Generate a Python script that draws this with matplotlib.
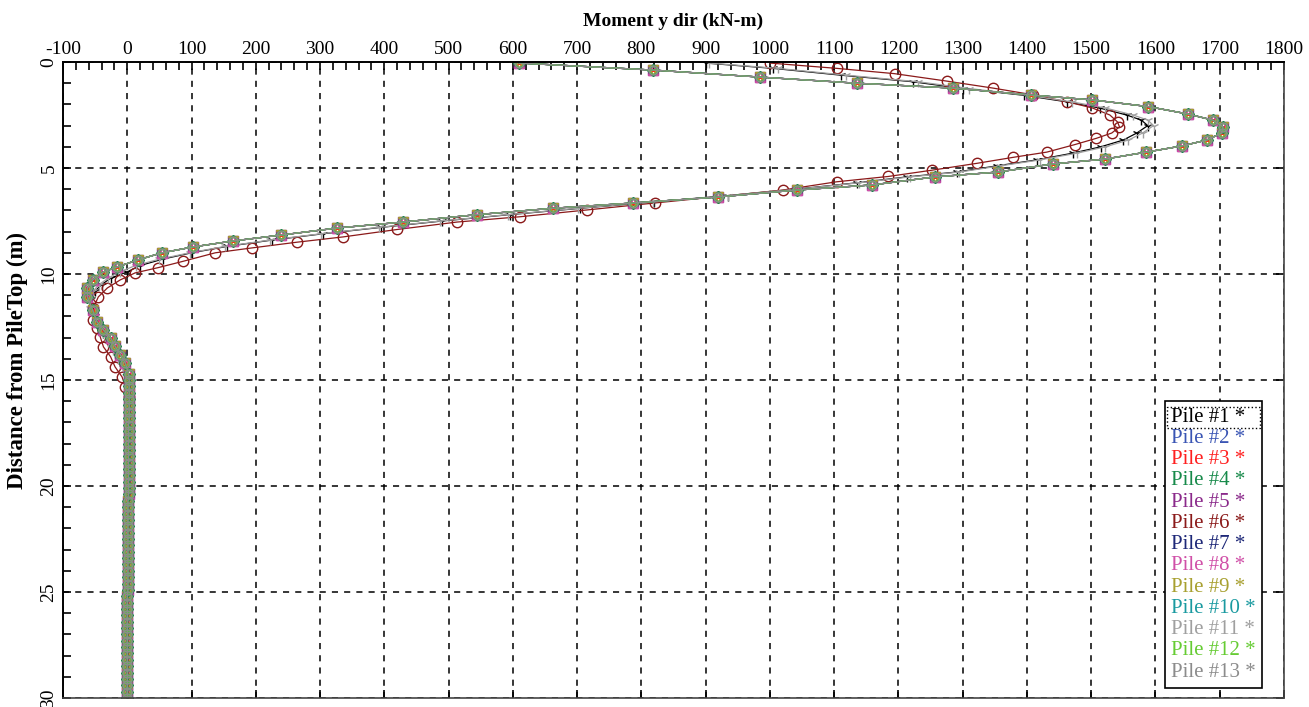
import numpy as np
import matplotlib
matplotlib.use("Agg")
import matplotlib.pyplot as plt
from matplotlib.lines import Line2D
from matplotlib.patches import Rectangle
from matplotlib.ticker import MultipleLocator

plt.rcParams["font.family"] = ["Liberation Serif", "DejaVu Serif"]
plt.rcParams["axes.unicode_minus"] = False

# piles 2-5, 7-10, 12, 13 give practically the same curve
depth_a = [0.05, 0.38, 0.71, 1.0, 1.23, 1.56, 1.79, 2.1, 2.45, 2.74,
           3.06, 3.35, 3.68, 3.96, 4.25, 4.58, 4.81, 5.19, 5.42, 5.8,
           6.04, 6.37, 6.65, 6.9, 7.2, 7.55, 7.83, 8.16, 8.44, 8.72,
           9.0, 9.34, 9.67, 9.9, 10.28, 10.66, 11.08, 11.7, 12.26, 12.64,
           13.0, 13.4, 13.8, 14.2, 14.7]
moment_a = [610, 818, 984, 1135, 1285, 1407, 1502, 1588, 1650, 1689,
            1705, 1703, 1680, 1641, 1586, 1521, 1440, 1355, 1257, 1159,
            1042, 919, 787, 662, 544, 429, 327, 240, 165, 103,
            54, 16, -16, -37, -54, -62, -62, -54, -47, -37,
            -26, -19, -11, -3, 2]

# pile 1 (black) and pile 11 (grey)
depth_p1 = [0.05, 0.3, 0.62, 0.93, 1.25, 1.57, 1.88, 2.17, 2.5, 2.74,
            3.0, 3.35, 3.68, 4.0, 4.3, 4.62, 4.9, 5.19, 5.42, 5.7,
            6.0, 6.3, 6.6, 6.9, 7.2, 7.5, 7.8, 8.1, 8.4, 8.7,
            9.0, 9.3, 9.6, 9.9, 10.2, 10.5, 10.8, 11.2, 11.6, 12.0,
            12.4, 12.8, 13.2, 13.6, 14.0, 14.4, 14.8]
moment_p1 = [900, 1005, 1110, 1222, 1300, 1395, 1462, 1513, 1555, 1578,
             1588, 1571, 1550, 1515, 1471, 1415, 1353, 1291, 1213, 1135,
             1040, 935, 820, 705, 595, 490, 395, 305, 225, 155,
             100, 55, 20, 0, -26, -40, -50, -56, -55, -50,
             -44, -37, -29, -21, -13, -6, -1]
moment_p11 = [905, 1012, 1118, 1230, 1310, 1400, 1470, 1522, 1565, 1588,
              1597, 1580, 1558, 1522, 1478, 1420, 1358, 1295, 1218, 1138,
              1042, 935, 818, 702, 592, 487, 392, 302, 222, 152,
              97, 50, 13, -12, -30, -44, -53, -58, -58, -53,
              -46, -38, -30, -22, -14, -7, -2]

# pile 6 (dark red, shorter pile)
depth_p6 = [0.05, 0.3, 0.55, 0.9, 1.23, 1.55, 1.88, 2.17, 2.5, 2.83,
            3.06, 3.35, 3.6, 3.9, 4.25, 4.5, 4.78, 5.1, 5.4, 5.65,
            6.04, 6.35, 6.65, 6.98, 7.3, 7.55, 7.9, 8.25, 8.5, 8.77,
            9.0, 9.4, 9.7, 9.95, 10.28, 10.66, 11.08, 11.6, 12.17, 12.55,
            12.97, 13.44, 13.9, 14.38, 14.86, 15.33, 15.8, 16.3, 16.8, 17.3,
            17.8, 18.3, 18.8, 19.3, 19.8, 20.3, 20.8]
moment_p6 = [1000, 1104, 1194, 1275, 1347, 1410, 1463, 1502, 1529, 1541,
             1544, 1532, 1508, 1474, 1431, 1378, 1322, 1253, 1184, 1104,
             1020, 920, 821, 715, 611, 513, 420, 336, 264, 194,
             137, 87, 48, 12, -11, -31, -45, -53, -53, -47,
             -42, -37, -26, -19, -8, -3, 2, 5, 7, 7,
             7, 7, 7, 7, 7, 7, 7]

# lower part of the long piles (15 m - 30 m)
deep_depth = [15.0, 15.3, 15.6, 15.9, 16.2, 16.5, 16.8, 17.1, 17.4, 17.7,
              18.0, 18.3, 18.6, 18.9, 19.2, 19.5, 19.8, 20.1, 20.4, 20.7,
              21.0, 21.3, 21.6, 21.9, 22.2, 22.5, 22.8, 23.1, 23.4, 23.7,
              24.0, 24.3, 24.6, 24.9, 25.2, 25.5, 25.8, 26.1, 26.4, 26.7,
              27.0, 27.3, 27.6, 27.9, 28.2, 28.5, 28.8, 29.1, 29.4, 29.7, 30.0]
deep_moment = [3, 3, 3, 3, 3, 3, 3, 2, 2, 2,
               2, 2, 2, 2, 2, 2, 2, 2, 2, 1,
               1, 1, 1, 1, 1, 1, 1, 1, 1, 1,
               1, 1, 1, 1, 0, 0, 0, 0, 0, 0,
               0, 0, 0, 0, 0, 0, 0, 0, 0, 0, 0]

pile_labels = ["Pile #1", "Pile #2", "Pile #3", "Pile #4", "Pile #5", "Pile #6", "Pile #7",
               "Pile #8", "Pile #9", "Pile #10", "Pile #11", "Pile #12", "Pile #13"]
pile_colors = ["#000000", "#3A55B4", "#FF2020", "#178A4A", "#8B2A8B", "#8B1A1A", "#1E2878",
               "#D050A8", "#A8A030", "#1A9AA0", "#A0A0A0", "#66CC33", "#8C8C8C"]
pile_markers = ["1", "o", "x", "D", "s", "o", "p", "^", "v", "h", "1", "H", "o"]
# drawing order, so the grey line with greenish markers ends up on top as in the original
draw_order = [1, 6, 11, 2, 3, 5, 7, 8, 9, 10, 4, 12, 13]

fig = plt.figure(figsize=(13.09, 7.07), dpi=100)
ax = fig.add_axes([63 / 1309, 9 / 707, 1221 / 1309, 636 / 707])

for num in draw_order:
    i = num - 1
    if num == 1:
        x = moment_p1 + deep_moment
        y = depth_p1 + deep_depth
        mevery = None
    elif num == 11:
        x = moment_p11 + deep_moment
        y = depth_p1 + deep_depth
        mevery = None
    elif num == 6:
        x = moment_p6
        y = depth_p6
        mevery = list(range(47))
    else:
        x = moment_a + deep_moment
        y = depth_a + deep_depth
        mevery = None
    ms = 7.5 if num == 6 else 6.5
    ax.plot(x, y, color=pile_colors[i], lw=0.9, marker=pile_markers[i], ms=ms,
            mfc="none", mew=1.0, markevery=mevery)

ax.set_xlim(-100, 1800)
ax.set_ylim(30, 0)
ax.xaxis.set_major_locator(MultipleLocator(100))
ax.xaxis.set_minor_locator(MultipleLocator(20))
ax.yaxis.set_major_locator(MultipleLocator(5))
ax.yaxis.set_minor_locator(MultipleLocator(1))

ax.xaxis.set_label_position("top")
ax.set_xlabel("Moment y dir (kN-m)", fontsize=14, fontweight="bold", labelpad=11)
ax.set_ylabel("Distance from PileTop (m)", fontsize=16.5, fontweight="bold")
ax.yaxis.set_label_coords(-0.029, 0.53)

ax.tick_params(which="both", direction="in", top=True, bottom=True, left=True, right=True,
               labeltop=True, labelbottom=False, labelsize=14, width=1.2)
ax.tick_params(which="major", length=6, pad=3)
ax.tick_params(which="minor", length=6, bottom=False, right=False)
ax.tick_params(axis="y", labelrotation=90, pad=4)
for lbl in ax.get_yticklabels():
    lbl.set_va("center")

ax.grid(True, which="major", color="black", linestyle=(0, (4, 4)), linewidth=1.1)
for side in ["left", "top"]:
    ax.spines[side].set_linewidth(1.4)
    ax.spines[side].set_color("black")
for side in ["right", "bottom"]:
    ax.spines[side].set_linewidth(1.2)
    ax.spines[side].set_color("#444444")

handles = [Line2D([], [], linestyle="none") for _ in pile_labels]
leg = ax.legend(handles, [lab + " *" for lab in pile_labels], loc="lower right",
                bbox_to_anchor=(0.982, 0.016), borderaxespad=0, fontsize=15,
                handlelength=0, handletextpad=0, labelspacing=0.08, borderpad=0.3,
                fancybox=False, framealpha=1, edgecolor="black")
leg.get_frame().set_linewidth(1.2)
for txt, c in zip(leg.get_texts(), pile_colors):
    txt.set_color(c)

# dotted focus box around the first legend entry
fig.canvas.draw()
rend = fig.canvas.get_renderer()
fb = leg.get_frame().get_window_extent(rend)
tb = leg.get_texts()[0].get_window_extent(rend)
W, H = fig.bbox.width, fig.bbox.height
fig.add_artist(Rectangle(((fb.x0 + 2) / W, (tb.y0 - 1) / H), (fb.width - 4) / W,
                         (tb.height + 2) / H, transform=fig.transFigure,
                         fill=False, ls=":", lw=1.0, ec="black"))

fig.savefig("out.png", dpi=100)
